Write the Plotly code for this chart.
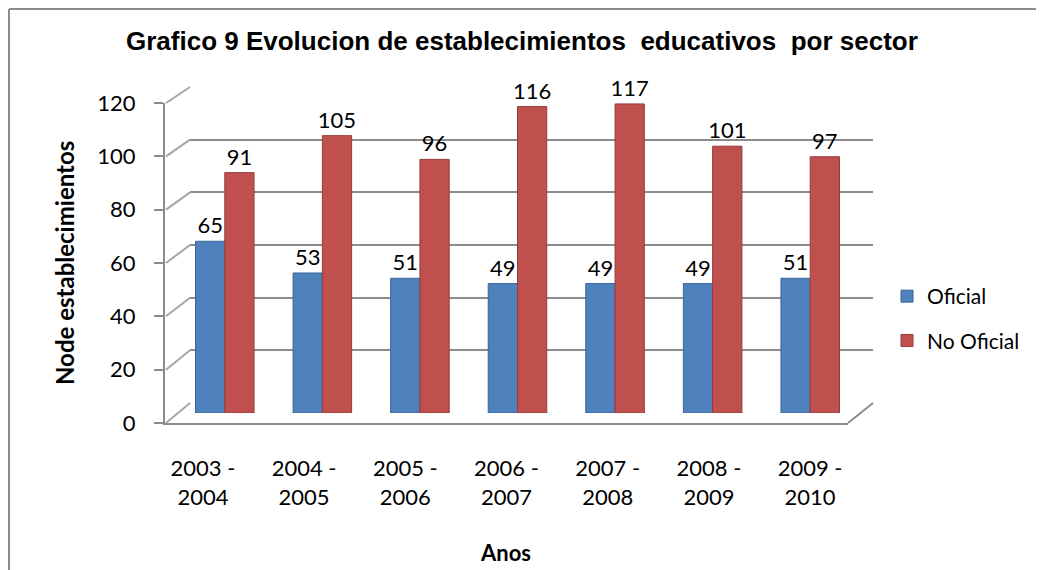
import plotly.graph_objs as go

# datos del grafico
periodos = ["2003 -<br>2004", "2004 -<br>2005", "2005 -<br>2006", "2006 -<br>2007",
            "2007 -<br>2008", "2008 -<br>2009", "2009 -<br>2010"]
oficial = [65, 53, 51, 49, 49, 49, 51]
no_oficial = [91, 105, 96, 116, 117, 101, 97]
ticks_y = [0, 20, 40, 60, 80, 100, 120]

# la pagina tiene 8px de margen en el body, se descuenta del tamaño
OFF = 8
W, H = 1044 - OFF, 570 - OFF
FONT = "Lato, Open Sans, sans-serif"
GRIS = "#8c8c8c"


def px(x):
    return (x - OFF) / W


def py(y):
    return 1 - (y - OFF) / H


# pared del fondo (0 -> 403 px, 120 -> 87 px), barras, eje frontal
back_y = lambda v: 403 - v * (403 - 87) / 120
front_y = lambda v: 423 - v * (423 - 103) / 120

traces = [
    # pared del fondo, solo para las lineas de la grilla
    go.Scatter(x=periodos, y=oficial, xaxis="x", yaxis="y", mode="markers",
               marker=dict(opacity=0), hoverinfo="skip", showlegend=False),
    go.Bar(x=periodos, y=oficial, name="Oficial", xaxis="x2", yaxis="y2",
           marker=dict(color="#4f81bd", line=dict(color="#3a6496", width=1)),
           text=oficial, textposition="outside", cliponaxis=False, constraintext="none",
           textfont=dict(size=22, color="black", family=FONT),
           legendgroup="a"),
    go.Bar(x=periodos, y=no_oficial, name="No Oficial", xaxis="x2", yaxis="y2",
           marker=dict(color="#c0504d", line=dict(color="#943c3a", width=1)),
           text=no_oficial, textposition="outside", cliponaxis=False, constraintext="none",
           textfont=dict(size=22, color="black", family=FONT),
           legendgroup="b"),
    # eje frontal con las etiquetas
    go.Scatter(x=periodos, y=oficial, xaxis="x3", yaxis="y3", mode="markers",
               marker=dict(opacity=0), hoverinfo="skip", showlegend=False),
]

shapes = []
# lineas en perspectiva entre el eje frontal y la pared
for v in ticks_y:
    shapes.append(dict(type="line", xref="paper", yref="paper",
                       x0=px(166), y0=py(front_y(v)), x1=px(190), y1=py(back_y(v)),
                       line=dict(color="#a6a6a6", width=2)))
shapes.append(dict(type="line", xref="paper", yref="paper",
                   x0=px(848), y0=py(423), x1=px(873), y1=py(403),
                   line=dict(color=GRIS, width=2)))
# marco del grafico
shapes.append(dict(type="line", xref="paper", yref="paper",
                   x0=px(9), y0=py(9), x1=1, y1=py(9), line=dict(color=GRIS, width=2)))
shapes.append(dict(type="line", xref="paper", yref="paper",
                   x0=px(9), y0=py(9), x1=px(9), y1=0, line=dict(color=GRIS, width=2)))

layout = go.Layout(
    width=W, height=H,
    margin=dict(l=0, r=0, t=0, b=0, autoexpand=False),
    paper_bgcolor="white", plot_bgcolor="rgba(0,0,0,0)",
    font=dict(family=FONT, size=22, color="black"),
    barmode="group", bargap=0.4, bargroupgap=0,
    xaxis=dict(domain=[px(190), px(873)], anchor="y", showticklabels=False,
               showgrid=False, zeroline=False, automargin=False),
    yaxis=dict(domain=[py(403), py(87)], anchor="x", range=[0, 120], tickvals=ticks_y,
               showticklabels=False, showgrid=True, gridcolor=GRIS, gridwidth=2,
               zeroline=False, automargin=False),
    xaxis2=dict(domain=[px(176), px(859)], anchor="y2", showticklabels=False,
                showgrid=False, zeroline=False, automargin=False),
    yaxis2=dict(domain=[py(413), py(96)], anchor="x2", range=[0, 120],
                showticklabels=False, showgrid=False, zeroline=False, automargin=False),
    xaxis3=dict(domain=[px(165), px(848)], anchor="y3", showgrid=False, zeroline=False,
                showline=True, linecolor=GRIS, linewidth=2, automargin=False,
                tickfont=dict(size=22, family=FONT), ticklabelstandoff=25),
    yaxis3=dict(domain=[py(423), py(103)], anchor="x3", range=[0, 120], tickvals=ticks_y,
                showgrid=False, zeroline=False, showline=True, linecolor=GRIS,
                linewidth=2, ticks="outside", ticklen=9, tickcolor=GRIS, tickwidth=2,
                tickfont=dict(size=22, family=FONT), ticklabelstandoff=14,
                automargin=False),
    legend=dict(x=px(887), y=py(276), xanchor="left", yanchor="top",
                font=dict(size=21, family=FONT), traceorder="grouped",
                tracegroupgap=14, bgcolor="rgba(0,0,0,0)"),
    shapes=shapes,
    annotations=[
        dict(text="<b>Grafico 9 Evolucion de establecimientos  educativos  por sector</b>",
             xref="paper", yref="paper", x=px(522), y=py(41), showarrow=False,
             xanchor="center", yanchor="middle",
             font=dict(family="Liberation Sans, Arial", size=26)),
        dict(text="<b>Node establecimientos</b>", xref="paper", yref="paper",
             x=px(64), y=py(263), textangle=-90, showarrow=False,
             xanchor="center", yanchor="middle", font=dict(size=24, family=FONT)),
        dict(text="<b>Anos</b>", xref="paper", yref="paper", x=px(505), y=py(552),
             showarrow=False, xanchor="center", yanchor="middle",
             font=dict(size=22, family=FONT)),
    ],
)

fig = go.Figure(data=traces, layout=layout)
fig.write_html("out.html")
